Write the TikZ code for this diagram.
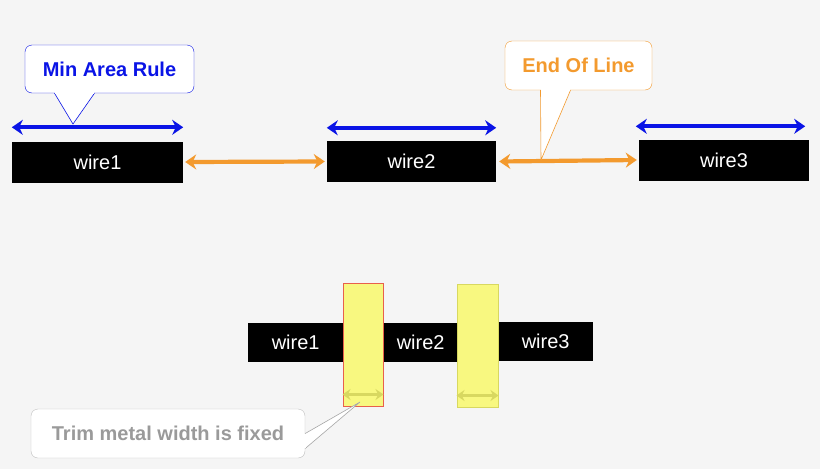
\documentclass[tikz,border=0pt]{standalone}
\usepackage{fontspec}
\setmainfont{Liberation Sans}
\usetikzlibrary{positioning,calc,arrows.meta}
\definecolor{bgc}{HTML}{F5F5F5}
\definecolor{ruleblue}{HTML}{0A14E6}
\definecolor{eolorange}{HTML}{F39A2E}
\definecolor{trimyel}{HTML}{F8F880}
\definecolor{trimarr}{HTML}{D8D860}
\definecolor{trimred}{HTML}{E8604C}
\definecolor{textgrey}{HTML}{9A9A9A}
\begin{document}
\begin{tikzpicture}[x=1pt,y=-1pt,
				wire/.style={fill=black,text=white,minimum height=41pt,inner sep=0pt,font=\fontsize{20}{20}\selectfont},
				trim/.style={fill=trimyel,minimum width=40pt,minimum height=123pt,inner sep=0pt},
				rulearr/.style={{Stealth[length=11pt,width=15pt]}-{Stealth[length=11pt,width=15pt]},line width=4.2pt,ruleblue},
				eolarr/.style={{Stealth[length=11pt,width=15pt]}-{Stealth[length=11pt,width=15pt]},line width=4.2pt,eolorange},
				callout/.style={rounded corners=7pt,fill=white,draw,inner sep=0pt,font=\bfseries\fontsize{20}{20}\selectfont}]
				\fill[bgc] (0,0) rectangle (820,469);
				\useasboundingbox (0,0) rectangle (820,469);
				% top row
				\node (W1) [wire,minimum width=171pt] at (97.5,162)  {wire1};
				\node (W2) [wire,minimum width=169pt] at (411.5,161.5) {wire2};
				\node (W3) [wire,minimum width=170pt] at (724,160)  {wire3};
				\draw[rulearr] ([yshift=14pt]W1.north west) -- ([yshift=14pt]W1.north east);
				\draw[rulearr] ([yshift=13pt]W2.north west) -- ([yshift=13pt]W2.north east);
				\draw[rulearr] ([yshift=13pt,xshift=-3pt]W3.north west) -- ([yshift=13pt,xshift=-4pt]W3.north east);
				\draw[eolarr] ([xshift=2pt]W1.east) -- ([xshift=-2pt]W2.west);
				\draw[eolarr] ([xshift=3pt]W2.east) -- ([xshift=-2pt]W3.west);
				% callouts
				\node (MAR) [callout,draw=ruleblue,text=ruleblue,minimum width=169pt,minimum height=48pt] at (109.5,69) {Min Area Rule};
				\coordinate (MART) at (73,124);
				\filldraw[ruleblue,fill=white,line width=0.6pt] ([xshift=-55pt]MAR.south) -- (MART) -- ([xshift=-15pt]MAR.south);
				\draw[white,line width=1.5pt] ([xshift=-54.5pt,yshift=0.4pt]MAR.south) -- ([xshift=-15.5pt,yshift=0.4pt]MAR.south);
				\node (EOL) [callout,draw=eolorange,text=eolorange,minimum width=147pt,minimum height=49pt] at (578.5,65.5) {End Of Line};
				\coordinate (EOLT) at (541,160);
				\filldraw[eolorange,fill=white,line width=0.6pt] ([xshift=-38pt]EOL.south) -- (EOLT) -- ([xshift=-8pt]EOL.south);
				\draw[white,line width=1.5pt] ([xshift=-37.5pt,yshift=0.4pt]EOL.south) -- ([xshift=-8.5pt,yshift=0.4pt]EOL.south);
				% bottom row
				\node (B1) [wire,minimum width=95pt,minimum height=39pt,anchor=west] at (248,342.5) {wire1};
				\node (B2) [wire,minimum width=75pt,minimum height=39pt,anchor=west] at (383,342.5) {wire2};
				\node (B3) [wire,minimum width=95pt,minimum height=39pt,anchor=west] at (498,341.5) {wire3};
				\node (T1) [trim,draw=trimred,line width=1pt] at (363,344.5) {};
				\node (T2) [trim,draw=trimarr,line width=1pt,minimum width=41pt] at (477.5,345.5) {};
				\draw[{Stealth[length=8pt,width=11pt]}-{Stealth[length=8pt,width=11pt]},line width=2.2pt,trimarr] ([yshift=12pt]T1.south west) -- ([yshift=12pt]T1.south east);
				\draw[{Stealth[length=8pt,width=11pt]}-{Stealth[length=8pt,width=11pt]},line width=2.2pt,trimarr] ([yshift=12pt]T2.south west) -- ([yshift=12pt]T2.south east);
				\node (TRM) [callout,draw=black!25,text=textgrey,minimum width=274pt,minimum height=49pt] at (168,433.5) {Trim metal width is fixed};
				\coordinate (TRMT) at (360,402);
				\filldraw[black!35,fill=white,line width=0.6pt] ([yshift=-15pt]TRM.east) -- (TRMT) -- ([yshift=0pt]TRM.east);
				\draw[white,line width=1.5pt] ([yshift=-14.5pt,xshift=-0.4pt]TRM.east) -- ([yshift=-0.5pt,xshift=-0.4pt]TRM.east);
			\end{tikzpicture}
\end{document}
